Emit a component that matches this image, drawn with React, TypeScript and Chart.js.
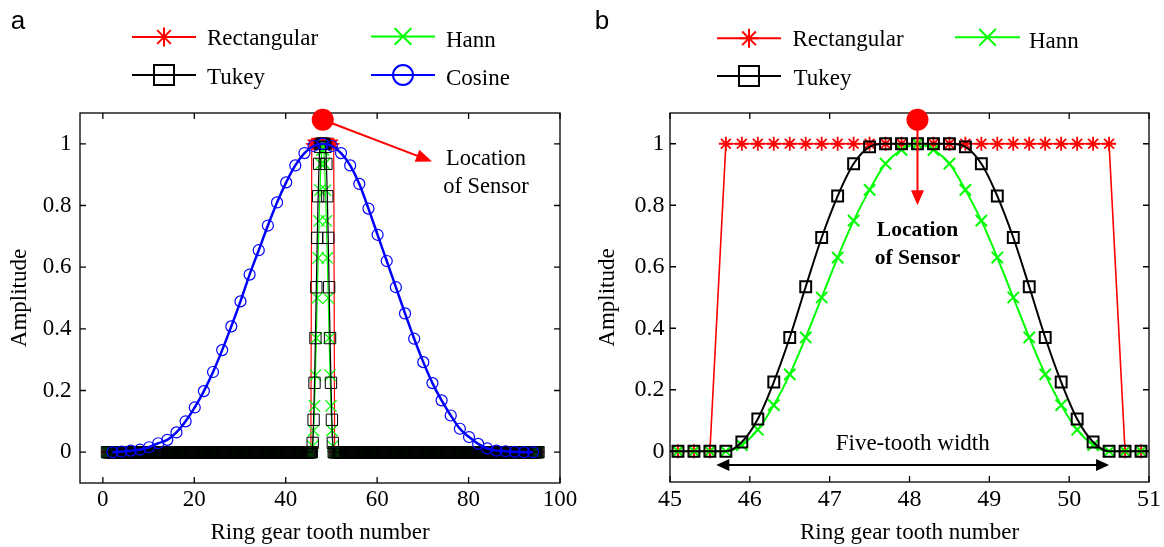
import React, { useEffect, useRef } from 'react';
import { Chart, registerables } from 'chart.js';

Chart.register(...registerables);

// ---------------- data ----------------
// samples along the ring gear (tooth number), every 0.2 tooth
const SAMPLE_STEP = 0.2;
const FIRST_SAMPLE = 0.9;
const LAST_SAMPLE = 95.3;
// outside the window region all three windows read 0

const windowTeeth = [
  45.1, 45.3, 45.5, 45.7, 45.9, 46.1, 46.3, 46.5, 46.7, 46.9,
  47.1, 47.3, 47.5, 47.7, 47.9, 48.1, 48.3, 48.5, 48.7, 48.9,
  49.1, 49.3, 49.5, 49.7, 49.9, 50.1, 50.3, 50.5, 50.7, 50.9,
];
const rectangularWindow = [
  0, 0, 0, 1, 1, 1, 1, 1, 1, 1,
  1, 1, 1, 1, 1, 1, 1, 1, 1, 1,
  1, 1, 1, 1, 1, 1, 1, 1, 0, 0,
];
const hannWindow = [
  0, 0, 0, 0, 0.02, 0.07, 0.15, 0.25, 0.37, 0.5,
  0.63, 0.75, 0.85, 0.935, 0.98, 1, 0.98, 0.935, 0.85, 0.75,
  0.63, 0.5, 0.37, 0.25, 0.15, 0.07, 0.02, 0, 0, 0,
];
const tukeyWindow = [
  0, 0, 0, 0, 0.03, 0.105, 0.225, 0.37, 0.535, 0.695,
  0.83, 0.935, 0.99, 1, 1, 1, 1, 1, 0.99, 0.935,
  0.83, 0.695, 0.535, 0.37, 0.225, 0.105, 0.03, 0, 0, 0,
];

const cosineTeeth = [
  2.1, 4.1, 6.1, 8.1, 10.1, 12.1, 14.1, 16.1, 18.1, 20.1,
  22.1, 24.1, 26.1, 28.1, 30.1, 32.1, 34.1, 36.1, 38.1, 40.1,
  42.1, 44.1, 46.1, 48.1, 50.1, 52.1, 54.1, 56.1, 58.1, 60.1,
  62.1, 64.1, 66.1, 68.1, 70.1, 72.1, 74.1, 76.1, 78.1, 80.1,
  82.1, 84.1, 86.1, 88.1, 90.1, 92.1, 94.1,
];
const cosineValues = [
  0, 0.002, 0.005, 0.008, 0.016, 0.029, 0.04, 0.064, 0.1, 0.145,
  0.198, 0.26, 0.331, 0.408, 0.489, 0.576, 0.655, 0.735, 0.81, 0.875,
  0.93, 0.97, 0.993, 1, 0.993, 0.97, 0.93, 0.87, 0.79, 0.705,
  0.62, 0.535, 0.45, 0.368, 0.292, 0.224, 0.168, 0.119, 0.076, 0.049,
  0.027, 0.012, 0.005, 0.003, 0.001, 0, 0,
];

const leftXTicks = [0, 20, 40, 60, 80, 100];
const rightXTicks = [45, 46, 47, 48, 49, 50, 51];
const yTicks = [0, 0.2, 0.4, 0.6, 0.8, 1];

// annotation anchors (data coordinates)
const sensorTooth = 48.1;
const sensorLevel = 1.078;
const leftArrowTip = { x: 72, y: 0.943 };
const leftNote = { x: 83.8, y1: 0.949, y2: 0.861 };
const rightArrowTipLevel = 0.8;
const rightNote = { y1: 0.719, y2: 0.628 };
const widthArrow = { from: 45.58, to: 50.5, y: -0.045 };
const widthNote = { x: 48.04, y: 0.025 };

// ---------------- styling ----------------
const RED = '#ff0000';
const GREEN = '#00ff00';
const BLUE = '#0000ff';
const BLACK = '#000000';
const SERIF = '"Liberation Serif", "Times New Roman", serif';
const SANS = '"Liberation Sans", Arial, sans-serif';

function buildSeries(win: number[]) {
  const n = Math.round((LAST_SAMPLE - FIRST_SAMPLE) / SAMPLE_STEP) + 1;
  const pts: { x: number; y: number }[] = [];
  for (let i = 0; i < n; i++) {
    const x = Math.round((FIRST_SAMPLE + i * SAMPLE_STEP) * 10) / 10;
    const k = windowTeeth.indexOf(x);
    pts.push({ x, y: k >= 0 ? win[k] : 0 });
  }
  return pts;
}

type Mk = 'star' | 'x' | 'square' | 'circle';

function drawMarker(ctx: CanvasRenderingContext2D, kind: Mk, x: number, y: number, r: number) {
  ctx.beginPath();
  if (kind === 'star') {
    const d = r * 0.72;
    ctx.moveTo(x - r, y); ctx.lineTo(x + r, y);
    ctx.moveTo(x, y - r); ctx.lineTo(x, y + r);
    ctx.moveTo(x - d, y - d); ctx.lineTo(x + d, y + d);
    ctx.moveTo(x - d, y + d); ctx.lineTo(x + d, y - d);
  } else if (kind === 'x') {
    ctx.moveTo(x - r, y - r); ctx.lineTo(x + r, y + r);
    ctx.moveTo(x - r, y + r); ctx.lineTo(x + r, y - r);
  } else if (kind === 'square') {
    ctx.rect(x - r, y - r, 2 * r, 2 * r);
  } else {
    ctx.arc(x, y, r, 0, Math.PI * 2);
  }
  ctx.stroke();
}

function arrowHead(ctx: CanvasRenderingContext2D, fx: number, fy: number, tx: number, ty: number, len: number, half: number) {
  const a = Math.atan2(ty - fy, tx - fx);
  const bx = tx - len * Math.cos(a);
  const by = ty - len * Math.sin(a);
  ctx.beginPath();
  ctx.moveTo(tx, ty);
  ctx.lineTo(bx + half * Math.sin(a), by - half * Math.cos(a));
  ctx.lineTo(bx - half * Math.sin(a), by + half * Math.cos(a));
  ctx.closePath();
  ctx.fill();
}

type LegendEntry = { label: string; color: string; mk: Mk; r: number; x0: number; x1: number; ly: number; tx: number; ty: number };

const legendA: LegendEntry[] = [
  { label: 'Rectangular', color: RED, mk: 'star', r: 9.5, x0: 132, x1: 196, ly: 37, tx: 207, ty: 38.5 },
  { label: 'Hann', color: GREEN, mk: 'x', r: 8.3, x0: 371, x1: 435, ly: 36.5, tx: 446, ty: 40.5 },
  { label: 'Tukey', color: BLACK, mk: 'square', r: 10, x0: 132, x1: 196, ly: 75, tx: 207, ty: 78 },
  { label: 'Cosine', color: BLUE, mk: 'circle', r: 10, x0: 371, x1: 435, ly: 75, tx: 446, ty: 79 },
];
const legendB: LegendEntry[] = [
  { label: 'Rectangular', color: RED, mk: 'star', r: 9.5, x0: 135, x1: 199, ly: 38.3, tx: 210.5, ty: 39.5 },
  { label: 'Hann', color: GREEN, mk: 'x', r: 8.3, x0: 373, x1: 438, ly: 37.3, tx: 447, ty: 42 },
  { label: 'Tukey', color: BLACK, mk: 'square', r: 10, x0: 135, x1: 199, ly: 76, tx: 211.5, ty: 78.5 },
];

function overlayPlugin(kind: 'a' | 'b') {
  return {
    id: 'overlay_' + kind,
    afterDraw(chart: any) {
      const { ctx, chartArea: ca, scales } = chart;
      const xs = scales.x;
      const ys = scales.y;
      ctx.save();
      // frame with inward ticks on all sides
      ctx.strokeStyle = BLACK;
      ctx.lineWidth = 1.3;
      ctx.strokeRect(ca.left, ca.top, ca.right - ca.left, ca.bottom - ca.top);
      const tl = 6;
      ctx.beginPath();
      for (const t of xs.ticks) {
        const px = xs.getPixelForValue(t.value);
        ctx.moveTo(px, ca.bottom); ctx.lineTo(px, ca.bottom - tl);
        ctx.moveTo(px, ca.top); ctx.lineTo(px, ca.top + tl);
      }
      for (const t of ys.ticks) {
        const py = ys.getPixelForValue(t.value);
        ctx.moveTo(ca.left, py); ctx.lineTo(ca.left + tl, py);
        ctx.moveTo(ca.right, py); ctx.lineTo(ca.right - tl, py);
      }
      ctx.stroke();

      // panel letter
      ctx.fillStyle = BLACK;
      ctx.font = '26px ' + SANS;
      ctx.textAlign = 'center';
      ctx.textBaseline = 'alphabetic';
      ctx.fillText(kind, kind === 'a' ? 18 : 20, 29);

      // legend
      const entries = kind === 'a' ? legendA : legendB;
      ctx.font = '23px ' + SERIF;
      ctx.textAlign = 'left';
      ctx.textBaseline = 'middle';
      for (const e of entries) {
        ctx.strokeStyle = e.color;
        ctx.lineWidth = 2;
        ctx.beginPath();
        ctx.moveTo(e.x0, e.ly); ctx.lineTo(e.x1, e.ly);
        ctx.stroke();
        drawMarker(ctx, e.mk, (e.x0 + e.x1) / 2, e.ly, e.r);
        ctx.fillStyle = BLACK;
        ctx.fillText(e.label, e.tx, e.ty);
      }

      // sensor annotation
      const sx = xs.getPixelForValue(sensorTooth);
      const sy = ys.getPixelForValue(sensorLevel);
      ctx.strokeStyle = RED;
      ctx.fillStyle = RED;
      ctx.lineWidth = 2;
      if (kind === 'a') {
        const tx = xs.getPixelForValue(leftArrowTip.x);
        const ty = ys.getPixelForValue(leftArrowTip.y);
        const a = Math.atan2(ty - sy, tx - sx);
        ctx.beginPath();
        ctx.moveTo(sx, sy);
        ctx.lineTo(tx - 12 * Math.cos(a), ty - 12 * Math.sin(a));
        ctx.stroke();
        arrowHead(ctx, sx, sy, tx, ty, 16, 6.5);
      } else {
        const ty = ys.getPixelForValue(rightArrowTipLevel);
        ctx.beginPath();
        ctx.moveTo(sx, sy);
        ctx.lineTo(sx, ty - 10);
        ctx.stroke();
        arrowHead(ctx, sx, sy, sx, ty, 15, 6.5);
      }
      ctx.beginPath();
      ctx.arc(sx, sy, 11, 0, Math.PI * 2);
      ctx.fill();

      ctx.fillStyle = BLACK;
      ctx.textAlign = 'center';
      ctx.textBaseline = 'middle';
      if (kind === 'a') {
        ctx.font = '22.5px ' + SERIF;
        const nx = xs.getPixelForValue(leftNote.x);
        ctx.fillText('Location', nx, ys.getPixelForValue(leftNote.y1));
        ctx.fillText('of Sensor', nx, ys.getPixelForValue(leftNote.y2));
      } else {
        ctx.font = 'bold 21.5px ' + SERIF;
        ctx.fillText('Location', sx, ys.getPixelForValue(rightNote.y1));
        ctx.fillText('of Sensor', sx, ys.getPixelForValue(rightNote.y2));
        // five-tooth width double arrow
        const ax0 = xs.getPixelForValue(widthArrow.from);
        const ax1 = xs.getPixelForValue(widthArrow.to);
        const ay = ys.getPixelForValue(widthArrow.y);
        ctx.strokeStyle = BLACK;
        ctx.lineWidth = 2;
        ctx.beginPath();
        ctx.moveTo(ax0 + 10, ay); ctx.lineTo(ax1 - 10, ay);
        ctx.stroke();
        arrowHead(ctx, ax1, ay, ax0, ay, 13, 6);
        arrowHead(ctx, ax0, ay, ax1, ay, 13, 6);
        ctx.font = '23px ' + SERIF;
        ctx.fillText('Five-tooth width', xs.getPixelForValue(widthNote.x), ys.getPixelForValue(widthNote.y));
      }
      ctx.restore();
    },
  };
}

function makeConfig(kind: 'a' | 'b'): any {
  const isA = kind === 'a';
  const datasets: any[] = [
    {
      label: 'Rectangular',
      data: buildSeries(rectangularWindow),
      borderColor: RED,
      borderWidth: isA ? 1.2 : 1.6,
      pointStyle: 'star',
      pointRadius: isA ? 6 : 7,
      pointBorderColor: RED,
      pointBorderWidth: isA ? 1.2 : 1.8,
      pointBackgroundColor: 'rgba(0,0,0,0)',
      tension: 0,
      order: 4,
    },
    {
      label: 'Hann',
      data: buildSeries(hannWindow),
      borderColor: GREEN,
      borderWidth: isA ? 1.2 : 2,
      pointStyle: 'crossRot',
      pointRadius: 8,
      pointBorderColor: GREEN,
      pointBorderWidth: isA ? 1.2 : 2,
      pointBackgroundColor: 'rgba(0,0,0,0)',
      cubicInterpolationMode: 'monotone',
      order: 3,
    },
    {
      label: 'Tukey',
      data: buildSeries(tukeyWindow),
      borderColor: BLACK,
      borderWidth: isA ? 1.2 : 2,
      pointStyle: 'rect',
      pointRadius: isA ? 8 : 7.7,
      pointBorderColor: BLACK,
      pointBorderWidth: isA ? 1 : 2,
      pointBackgroundColor: 'rgba(0,0,0,0)',
      cubicInterpolationMode: 'monotone',
      order: 2,
    },
  ];
  if (isA) {
    datasets.push({
      label: 'Cosine',
      data: cosineTeeth.map((x, i) => ({ x, y: cosineValues[i] })),
      borderColor: BLUE,
      borderWidth: 2.5,
      pointStyle: 'circle',
      pointRadius: 5.5,
      pointBorderColor: BLUE,
      pointBorderWidth: 1.2,
      pointBackgroundColor: 'rgba(0,0,0,0)',
      cubicInterpolationMode: 'monotone',
      order: 1,
    });
  }
  if (!isA) {
    for (const d of datasets) d.clip = 0;
  }
  const xTicks = isA ? leftXTicks : rightXTicks;
  const tickSize = isA ? 23 : 24;
  return {
    type: 'line',
    data: { datasets },
    options: {
      responsive: false,
      animation: false,
      events: [],
      layout: { padding: { top: 113, right: isA ? 22 : 15, bottom: 0, left: 0 } },
      plugins: { legend: { display: false }, tooltip: { enabled: false } },
      scales: {
        x: {
          type: 'linear',
          min: isA ? -5 : 45,
          max: isA ? 100 : 51,
          grid: { display: false, drawTicks: false },
          border: { display: false },
          afterBuildTicks: (s: any) => { s.ticks = xTicks.map((v) => ({ value: v })); },
          afterFit: (s: any) => { s.height = isA ? 64 : 65; },
          ticks: {
            autoSkip: false, maxRotation: 0, padding: 3, color: BLACK,
            font: { family: SERIF, size: tickSize },
            callback: (v: any) => String(v),
          },
          title: {
            display: true, text: 'Ring gear tooth number', color: BLACK,
            font: { family: SERIF, size: 23 }, padding: { top: 0, bottom: 0.5 },
          },
        },
        y: {
          type: 'linear',
          min: -0.1,
          max: 1.1,
          grid: { display: false, drawTicks: false },
          border: { display: false },
          afterBuildTicks: (s: any) => { s.ticks = yTicks.map((v) => ({ value: v })); },
          afterFit: (s: any) => { s.width = isA ? 80 : 88; },
          ticks: {
            autoSkip: false, padding: isA ? 8.5 : 5.5, color: BLACK,
            font: { family: SERIF, size: tickSize },
            callback: (v: any) => String(v),
          },
          title: {
            display: true, text: 'Amplitude', color: BLACK,
            font: { family: SERIF, size: 23 }, padding: { top: isA ? 6.2 : 12.2, bottom: 0 },
          },
        },
      },
    },
    plugins: [overlayPlugin(kind)],
  };
}

export default function App() {
  const leftRef = useRef<HTMLCanvasElement>(null);
  const rightRef = useRef<HTMLCanvasElement>(null);
  useEffect(() => {
    const c1 = new Chart(leftRef.current as HTMLCanvasElement, makeConfig('a'));
    const c2 = new Chart(rightRef.current as HTMLCanvasElement, makeConfig('b'));
    return () => { c1.destroy(); c2.destroy(); };
  }, []);
  return (
    <div style={{ position: 'absolute', left: 0, top: 0, width: 1164, height: 547, background: '#ffffff' }}>
      <canvas ref={leftRef} width={582} height={547} style={{ position: 'absolute', left: 0, top: 0, width: 582, height: 547 }} />
      <canvas ref={rightRef} width={582} height={547} style={{ position: 'absolute', left: 582, top: 0, width: 582, height: 547 }} />
    </div>
  );
}
